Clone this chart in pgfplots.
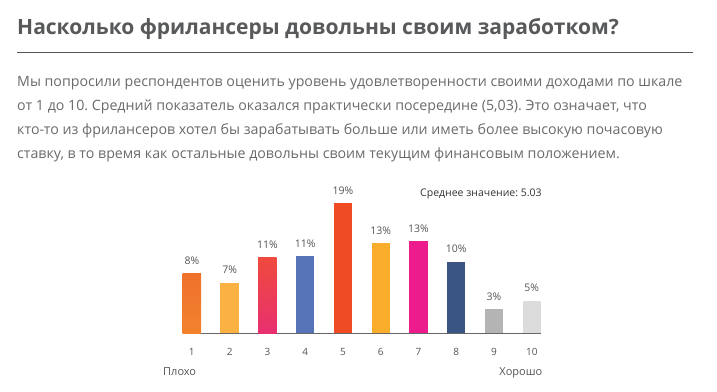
\documentclass[border=0pt]{standalone}
\usepackage{fontspec}
\setmainfont{Open Sans}
\usepackage{pgfplots}
\pgfplotsset{compat=1.18}
\frenchspacing
\definecolor{titlegray}{HTML}{58595B}
\definecolor{rulegray}{HTML}{555555}
\definecolor{textgray}{HTML}{6B6B6B}
\definecolor{labgray}{HTML}{555555}
\definecolor{basegray}{HTML}{666666}
\definecolor{cA}{HTML}{F0712C}
\definecolor{cAb}{HTML}{F2822E}
\definecolor{cB}{HTML}{FBB243}
\definecolor{cCt}{HTML}{EF4A3E}
\definecolor{cCb}{HTML}{E8306F}
\definecolor{cD}{HTML}{5573B6}
\definecolor{cE}{HTML}{F04C23}
\definecolor{cF}{HTML}{F9AD2B}
\definecolor{cG}{HTML}{EC1C8D}
\definecolor{cH}{HTML}{3A5582}
\definecolor{cI}{HTML}{B4B4B4}
\definecolor{cJ}{HTML}{DCDCDC}
\begin{document}
\begin{tikzpicture}[x=1pt,y=1pt]
\useasboundingbox[fill=white] (0,0) rectangle (717,391);
\node[anchor=base west, inner sep=0, text=titlegray, font=\fontsize{21}{25}\selectfont\bfseries] at (17,356) {Насколько фрилансеры довольны своим заработком?};
\draw[rulegray, line width=1.5pt] (17,338.5) -- (693,338.5);
\begin{scope}[every node/.style={anchor=base west, inner sep=0, text=textgray, font=\fontsize{14.2}{17}\selectfont}]
\node at (17,304) {Мы попросили респондентов оценить уровень удовлетворенности своими доходами по шкале};
\node at (17,280) {от 1 до 10. Средний показатель оказался практически посередине (5,03). Это означает, что};
\node at (17,256) {кто-то из фрилансеров хотел бы зарабатывать больше или иметь более высокую почасовую};
\node at (17,232) {ставку, в то время как остальные довольны своим текущим финансовым положением.};
\end{scope}
\node[anchor=base west, inner sep=0, text=black!80, font=\fontsize{10.5}{12}\selectfont] at (420,194) {Среднее значение: 5.03};
\node[anchor=base west, inner sep=0, text=labgray, font=\fontsize{11}{13}\selectfont] at (163,16) {Плохо};
\node[anchor=base east, inner sep=0, text=labgray, font=\fontsize{11}{13}\selectfont] at (542.5,16) {Хорошо};
\begin{axis}[
  at={(182.7pt,58pt)}, anchor=south west,
  scale only axis, width=358.2pt, height=136.8pt,
  xmin=0.7577, xmax=10.2423, ymin=0, ymax=20,
  hide y axis,
  axis x line*=bottom,
  x axis line style={-, draw=basegray, line width=1pt},
  xtick={1,...,10}, major tick length=0pt,
  /pgf/number format/assume math mode=true,
  xticklabel style={font=\fontsize{10}{12}\selectfont, text=labgray, inner sep=0pt, yshift=-15pt},
  ybar, bar width=18.3pt, bar shift=0pt,
  point meta=explicit symbolic,
  nodes near coords,
  every node near coord/.append style={font=\fontsize{10.5}{12}\selectfont, text=labgray, inner sep=0pt, anchor=south, yshift=8.7pt},
  clip=false,
]
\addplot[draw=none, top color=cA, bottom color=cAb] coordinates {(1,8.77) [8\%]};
\addplot[draw=none, fill=cB] coordinates {(2,7.31) [7\%]};
\addplot[draw=none, top color=cCt, bottom color=cCb] coordinates {(3,11.1) [11\%]};
\addplot[draw=none, fill=cD] coordinates {(4,11.25) [11\%]};
\addplot[draw=none, fill=cE] coordinates {(5,19.0) [19\%]};
\addplot[draw=none, fill=cF] coordinates {(6,13.15) [13\%]};
\addplot[draw=none, fill=cG] coordinates {(7,13.45) [13\%]};
\addplot[draw=none, fill=cH] coordinates {(8,10.38) [10\%]};
\addplot[draw=none, fill=cI] coordinates {(9,3.5) [3\%]};
\addplot[draw=none, fill=cJ] coordinates {(10,4.68) [5\%]};
\end{axis}
\end{tikzpicture}
\end{document}
